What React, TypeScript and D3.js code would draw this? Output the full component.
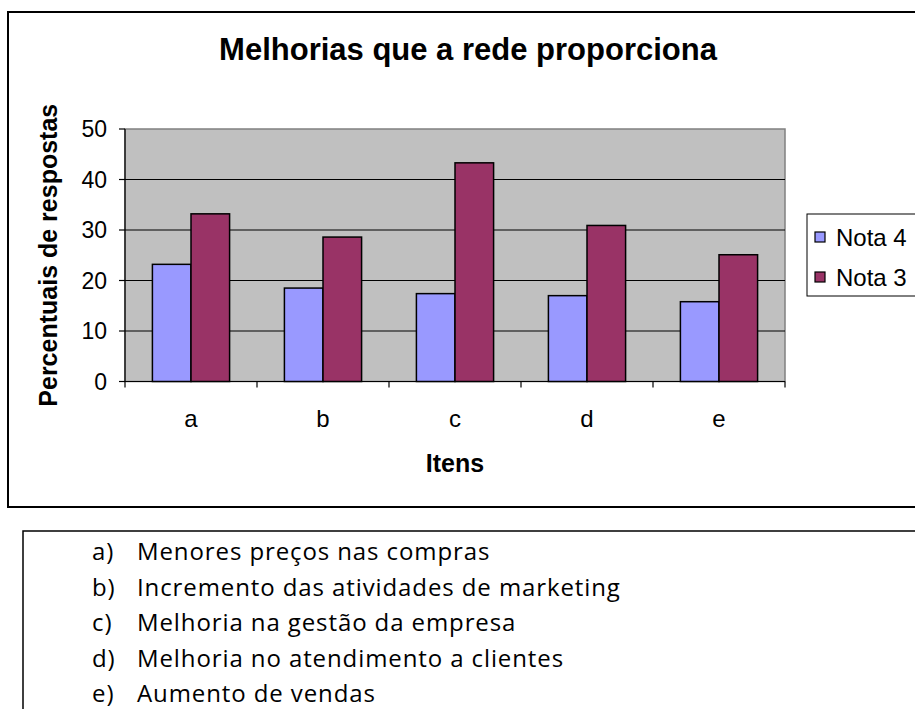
import React from 'react';
import * as d3 from 'd3';

const categories = ['a', 'b', 'c', 'd', 'e'];
const seriesNames = ['Nota 4', 'Nota 3'];
const nota4 = [23.2, 18.5, 17.4, 17.0, 15.8];
const nota3 = [33.2, 28.6, 43.3, 30.9, 25.1];
const yTicks = [0, 10, 20, 30, 40, 50];
const itemLabels = [
    'a)|Menores preços nas compras',
    'b)|Incremento das atividades de marketing',
    'c)|Melhoria na gestão da empresa',
    'd)|Melhoria no atendimento a clientes',
    'e)|Aumento de vendas',
];

const colors = ['#9999FF', '#993366'];

const App: React.FC = () => {
    const width = 915;
    const height = 709;
    // plot area
    const plot = { left: 125, right: 785, top: 129, bottom: 381.5 };

    const x0 = d3.scaleBand<string>()
        .domain(categories)
        .range([plot.left, plot.right])
        .paddingInner(0)
        .paddingOuter(0);

    // two bars in the middle of each band
    const x1 = d3.scaleBand<string>()
        .domain(seriesNames)
        .range([0, x0.bandwidth()])
        .paddingInner(0)
        .paddingOuter(0.71);

    const y = d3.scaleLinear()
        .domain([0, 50])
        .range([plot.bottom, plot.top]);

    const series = [nota4, nota3];
    const axisFont = '"Liberation Sans", Arial, sans-serif';

    return (
        <svg width={width} height={height} style={{ position: 'absolute', left: 0, top: 0 }}>
            <rect x={0} y={0} width={width} height={height} fill="#fff" />
            {/* chart frame */}
            <rect x={8} y={12} width={920} height={495} fill="none" stroke="#000" strokeWidth={2} />

            <text x={468} y={60} textAnchor="middle" fontFamily={axisFont} fontWeight="bold" fontSize={31}>
                Melhorias que a rede proporciona
            </text>

            {/* plot background */}
            <rect x={plot.left} y={plot.top} width={plot.right - plot.left} height={plot.bottom - plot.top}
                fill="#C0C0C0" stroke="#808080" strokeWidth={1.5} />

            {/* gridlines */}
            {yTicks.filter(t => t > 0 && t < 50).map(t => (
                <line key={t} x1={plot.left} x2={plot.right} y1={y(t)} y2={y(t)} stroke="#000" strokeWidth={1.2} />
            ))}

            {/* bars */}
            {categories.map((c, i) => (
                <g key={c} transform={`translate(${x0(c)},0)`}>
                    {seriesNames.map((s, j) => (
                        <rect key={s}
                            x={x1(s)}
                            y={y(series[j][i])}
                            width={x1.bandwidth()}
                            height={y(0) - y(series[j][i])}
                            fill={colors[j]}
                            stroke="#000"
                            strokeWidth={1.5} />
                    ))}
                </g>
            ))}

            {/* y axis */}
            <line x1={plot.left} x2={plot.left} y1={plot.top} y2={plot.bottom} stroke="#000" strokeWidth={1.2} />
            {yTicks.map(t => (
                <g key={t}>
                    <line x1={plot.left - 6} x2={plot.left} y1={y(t)} y2={y(t)} stroke="#000" strokeWidth={1.2} />
                    <text x={107} y={y(t)} dy="0.36em" textAnchor="end" fontFamily={axisFont} fontSize={23}>{t}</text>
                </g>
            ))}

            {/* x axis */}
            <line x1={plot.left} x2={plot.right} y1={plot.bottom} y2={plot.bottom} stroke="#000" strokeWidth={1.2} />
            {categories.map(c => (
                <g key={c}>
                    <line x1={x0(c)! + x0.bandwidth()} x2={x0(c)! + x0.bandwidth()} y1={plot.bottom} y2={plot.bottom + 6} stroke="#000" strokeWidth={1.2} />
                    <text x={x0(c)! + x0.bandwidth() / 2} y={427} textAnchor="middle" fontFamily={axisFont} fontSize={24}>{c}</text>
                </g>
            ))}
            <line x1={plot.left} x2={plot.left} y1={plot.bottom} y2={plot.bottom + 6} stroke="#000" strokeWidth={1.2} />

            <text x={(plot.left + plot.right) / 2} y={472} textAnchor="middle" fontFamily={axisFont} fontWeight="bold" fontSize={25}>Itens</text>
            <text transform={`translate(57,${(plot.top + plot.bottom) / 2}) rotate(-90)`} textAnchor="middle"
                fontFamily={axisFont} fontWeight="bold" fontSize={25}>Percentuais de respostas</text>

            {/* legend */}
            <rect x={807} y={214} width={130} height={82} fill="#fff" stroke="#000" strokeWidth={1} />
            {seriesNames.map((s, i) => (
                <g key={s} transform={`translate(0,${237 + i * 40})`}>
                    <rect x={815} y={-5} width={10} height={10} fill={colors[i]} stroke="#000" strokeWidth={1.2} />
                    <text x={836} y={0} dy="0.36em" fontFamily={axisFont} fontSize={24}>{s}</text>
                </g>
            ))}

            {/* item list box */}
            <rect x={23} y={531} width={920} height={200} fill="none" stroke="#000" strokeWidth={1.5} />
            {itemLabels.map((l, i) => {
                const [k, txt] = l.split('|');
                return (
                    <g key={k} fontFamily='"Open Sans", sans-serif' fontSize={24} letterSpacing={0.9}>
                        <text x={92} y={560 + i * 35.5}>{k}</text>
                        <text x={137} y={560 + i * 35.5}>{txt}</text>
                    </g>
                );
            })}
        </svg>
    );
};

export default App;
